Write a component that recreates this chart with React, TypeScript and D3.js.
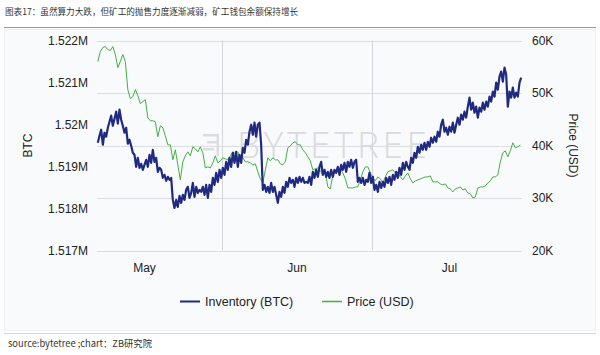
import React from 'react';
import * as d3 from 'd3';

const titleText = '图表17：虽然算力大跌，但矿工的抛售力度逐渐减弱，矿工钱包余额保持增长';
const sourceText = 'source:bytetree ;chart：ZB研究院';
const watermarkText = 'BYTETREE';
const seriesNames = ['Inventory (BTC)', 'Price (USD)'];
const leftAxisTitle = 'BTC';
const rightAxisTitle = 'Price (USD)';
const monthNames = ['May', 'Jun', 'Jul'];

const xDomain = [new Date(2021, 4, 7), new Date(2021, 6, 31)];
const btcTicks = [1517000, 1518000, 1519000, 1520000, 1521000, 1522000];
const usdTicks = [20000, 30000, 40000, 50000, 60000];

const inventoryStart = new Date(2021, 4, 7, 4);
const inventoryStepHours = 8;
const inventoryBTC = [
  1519565, 1519733, 1519876, 1519518, 1519804, 1519709, 1519923, 1520067, 1520210, 1519971,
  1520138, 1520305, 1520019, 1520353, 1520114, 1519971, 1519804, 1519923, 1519542, 1519637,
  1519494, 1519327, 1519279, 1518993, 1519207, 1518969, 1519064, 1518921, 1519040, 1519160,
  1518993, 1519279, 1519088, 1519398, 1519112, 1519207, 1518873, 1518969, 1518921, 1518730,
  1518802, 1518659, 1518754, 1518683, 1518730, 1518205, 1518014, 1518205, 1518038, 1518301,
  1518134, 1518325, 1518205, 1518444, 1518516, 1518253, 1518372, 1518611, 1518277, 1518516,
  1518372, 1518444, 1518396,
  1518516, 1518325, 1518563, 1518253, 1518563, 1518396, 1518730, 1518563, 1518850, 1518635,
  1518921, 1518730, 1518969, 1518802, 1519112, 1518921, 1519207, 1518993, 1519327, 1519088,
  1519351, 1518993, 1519279, 1519088, 1519446, 1519327, 1519637, 1519518, 1519828, 1519995,
  1519756, 1520043, 1519709, 1519995, 1520043, 1519518, 1518444, 1518563, 1518396, 1518516,
  1518372, 1518611, 1518396, 1518516, 1518325, 1518134, 1518396, 1518277, 1518516, 1518372,
  1518635, 1518516, 1518730, 1518611, 1518683, 1518516, 1518730, 1518611, 1518754, 1518635,
  1518730, 1518611, 1518635,
  1518611, 1518754, 1518563, 1518873, 1518730, 1518921, 1518754, 1518993, 1519112, 1518802,
  1518921, 1518754, 1518873, 1518730, 1518921, 1518754, 1518921, 1518850, 1518993, 1518802,
  1519040, 1518921, 1519088, 1518873, 1519112, 1518993, 1519160, 1518969, 1519112, 1519160,
  1518635, 1518730, 1518611, 1518730, 1518563, 1518683, 1518635, 1518850, 1518611, 1518754,
  1518444, 1518563, 1518396, 1518635, 1518492, 1518635, 1518516, 1518730, 1518611, 1518754,
  1518563, 1518802, 1518683, 1518873, 1518730, 1518969, 1518802, 1519088, 1518921, 1519112,
  1518993, 1518921, 1519207, 1519088, 1519327, 1519207, 1519470, 1519327, 1519518, 1519398,
  1519565, 1519398, 1519589, 1519470, 1519685, 1519565, 1519709, 1519589, 1519828, 1519709,
  1519995, 1520114, 1519828, 1519923, 1519756, 1519947, 1519828, 1520043, 1519804, 1519995,
  1520162, 1519995, 1520234, 1520114, 1520305, 1520162, 1520425, 1520639, 1520353, 1520520,
  1520281, 1520425, 1520162, 1520401, 1520305, 1520520, 1520353, 1520544, 1520425, 1520663,
  1520544, 1520783, 1520663, 1520997, 1520830, 1521141, 1521260, 1521021, 1521355, 1521188,
  1520425, 1520783, 1520639, 1520878, 1520639, 1520759, 1520663, 1520997, 1521117,
];

const priceStart = new Date(2021, 4, 7, 4);
const priceStepHours = 12;
const priceUSD = [
  55990, 57900, 58660, 58850, 58280, 58090, 58850, 57320, 54840, 55990,
  57320, 55990, 50640, 48920, 49300, 50640, 49490, 47960, 48350, 48730,
  45290, 44720, 44720, 44530, 41660, 43760, 43380, 41850, 40130, 40130,
  37270, 39180, 36310, 33450, 36890, 38030, 38800, 38030, 39750, 39370,
  38800, 39750, 38610, 35740, 35930, 35740, 36700, 38030, 36700, 37080,
  37650, 37460, 37270, 38030, 38800, 38410, 38800, 37270, 37650, 36890,
  36890, 36700, 36310, 36500, 34980, 33640, 32880, 35360, 37650, 37080,
  37650, 37270, 37270, 36500, 36310, 36890, 39560, 39940, 40520, 40710,
  40130, 40130, 39180, 38610, 37840, 37080, 35360, 35550, 35740, 35170,
  34400, 34980, 32110, 31730, 34400, 34790, 34980, 35550, 34790, 33640,
  31920, 31920, 31920, 32110, 32110, 33450, 34980, 35930, 35930, 34790,
  33830, 33260, 34020, 33640, 32880, 34020, 34980, 35170, 35360, 34790,
  34790, 34020, 33450, 34210, 34790, 33640, 32880, 33260, 33450, 33640,
  33830, 34020, 34020, 34210, 33070, 33070, 33070, 32690, 32490, 32690,
  31920, 31730, 31160, 31730, 31920, 32110, 31540, 31730, 30970, 30780,
  30010, 30200, 31920, 32110, 32110, 32300, 32880, 33260, 34020, 34020,
  34400, 36890, 38610, 38990, 37840, 38990, 40520, 39560, 39750, 40130,
];

const W = 600;
const H = 355;
const plot = { left: 97, right: 522, top: 40.5, bottom: 250.5 };
const AXIS_FONT = '"Liberation Sans", Arial, sans-serif';
const CJK_FONT = '"Noto Sans CJK SC", "Noto Sans", sans-serif';
const NAVY = '#1f2a80';
const GREEN = '#43b043';

export default function App() {
  const x = d3.scaleTime().domain(xDomain).range([plot.left, plot.right]);
  const yL = d3.scaleLinear().domain([btcTicks[0], btcTicks[btcTicks.length - 1]]).range([plot.bottom, plot.top]);
  const yR = d3.scaleLinear().domain([usdTicks[0], usdTicks[usdTicks.length - 1]]).range([plot.bottom, plot.top]);

  const invData = inventoryBTC.map((v, i) => ({ date: d3.timeHour.offset(inventoryStart, i * inventoryStepHours), v }));
  const priceData = priceUSD.map((v, i) => ({ date: d3.timeHour.offset(priceStart, i * priceStepHours), v }));

  const invLine = d3.line<{ date: Date; v: number }>().x(d => x(d.date)).y(d => yL(d.v));
  const priceLine = d3.line<{ date: Date; v: number }>().x(d => x(d.date)).y(d => yR(d.v));

  const monthStarts = d3.timeMonth.range(xDomain[0], xDomain[1]);
  const monthMids = monthNames.map((name, i) => {
    const s = new Date(2021, 4 + i, 1);
    const e = new Date(2021, 5 + i, 1);
    return { name, date: new Date((s.getTime() + e.getTime()) / 2) };
  });

  const fmtBTC = (v: number) => `${+(v / 1e6).toFixed(3)}M`;
  const fmtUSD = (v: number) => `${v / 1000}K`;

  const midY = (plot.top + plot.bottom) / 2;

  return (
    <svg width={W} height={H} style={{ position: 'absolute', left: 0, top: 0, background: '#fff' }}>
      <rect x={0} y={0} width={W} height={H} fill="#ffffff" />
      <text x={5} y={14.5} fontFamily={CJK_FONT} fontSize={8.6} fill="#333">{titleText}</text>
      <line x1={4} x2={596} y1={27.5} y2={27.5} stroke="#9a9a9a" strokeWidth={1} />
      <rect x={4.5} y={29.5} width={591} height={301} fill="#f9fafc" stroke="#eceef2" />
      <line x1={4} x2={596} y1={333.5} y2={333.5} stroke="#d6d6d6" strokeWidth={1} />
      <text x={8} y={347} fontFamily={CJK_FONT} fontSize={9.3} fill="#333">{sourceText}</text>

      {/* gridlines */}
      {usdTicks.map(t => (
        <line key={'h' + t} x1={plot.left} x2={plot.right} y1={Math.round(yR(t)) + 0.5} y2={Math.round(yR(t)) + 0.5} stroke="#dcdde0" strokeWidth={1} />
      ))}
      {monthStarts.map(d => (
        <line key={'v' + d.getTime()} x1={Math.round(x(d)) + 0.5} x2={Math.round(x(d)) + 0.5} y1={plot.top} y2={plot.bottom} stroke="#d4d5d8" strokeWidth={1} />
      ))}

      {/* watermark */}
      <g fill="#dcdde0" stroke="none">
        <rect x={203} y={134} width={16} height={2.5} />
        <rect x={207} y={141} width={12} height={2.5} />
        <rect x={216.5} y={134} width={2.5} height={22} />
        <rect x={203} y={148} width={11} height={2.5} />
      </g>
      <text x={237} y={158} fontFamily='"Open Sans", "DejaVu Sans", sans-serif' fontWeight={300} fontSize={37} fill="#d9dadd" textLength={190} lengthAdjust="spacing">{watermarkText}</text>

      {/* lines */}
      <path d={priceLine(priceData) || ''} fill="none" stroke={GREEN} strokeWidth={1} strokeLinejoin="round" />
      <path d={invLine(invData) || ''} fill="none" stroke={NAVY} strokeWidth={2.2} strokeLinejoin="round" />

      {/* left axis */}
      {btcTicks.map(t => (
        <text key={'l' + t} x={88} y={yL(t)} dy="0.35em" textAnchor="end" fontFamily={AXIS_FONT} fontSize={12} fill="#222">{fmtBTC(t)}</text>
      ))}
      <text transform={`translate(32,${midY}) rotate(-90)`} textAnchor="middle" fontFamily={AXIS_FONT} fontSize={12} fill="#222">{leftAxisTitle}</text>

      {/* right axis */}
      {usdTicks.map(t => (
        <text key={'r' + t} x={532} y={yR(t)} dy="0.35em" textAnchor="start" fontFamily={AXIS_FONT} fontSize={12} fill="#222">{fmtUSD(t)}</text>
      ))}
      <text transform={`translate(569,${midY}) rotate(90)`} textAnchor="middle" fontFamily={AXIS_FONT} fontSize={12} fill="#222">{rightAxisTitle}</text>

      {/* x axis */}
      {monthMids.map(m => (
        <text key={m.name} x={x(m.date)} y={272} textAnchor="middle" fontFamily={AXIS_FONT} fontSize={12} fill="#222">{m.name}</text>
      ))}

      {/* legend */}
      <line x1={180} x2={200} y1={301.5} y2={301.5} stroke={NAVY} strokeWidth={2} />
      <text x={205} y={305.5} fontFamily={AXIS_FONT} fontSize={12.5} fill="#222">{seriesNames[0]}</text>
      <line x1={322} x2={342} y1={301.5} y2={301.5} stroke={GREEN} strokeWidth={1.5} />
      <text x={347} y={305.5} fontFamily={AXIS_FONT} fontSize={12.5} fill="#222">{seriesNames[1]}</text>
    </svg>
  );
}
